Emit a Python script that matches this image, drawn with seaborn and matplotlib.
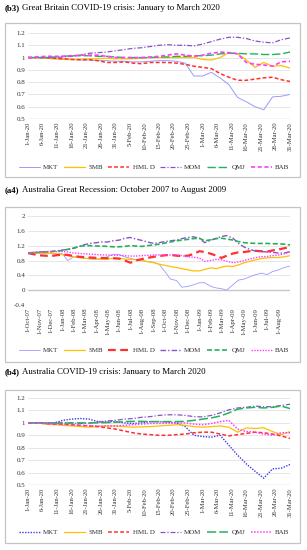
import numpy as np
import pandas as pd
import matplotlib
matplotlib.use("Agg")
import matplotlib.pyplot as plt
import seaborn as sns
from matplotlib.patches import Rectangle

# ---------------- data ----------------
factors = ["MKT", "SMB", "HML D", "MOM", "QMJ", "BAB"]

covid_dates = pd.date_range("2020-01-01", "2020-03-31", freq="3D")
covid_ticks = ["2020-01-01", "2020-01-06", "2020-01-11", "2020-01-16", "2020-01-21", "2020-01-26",
               "2020-01-31", "2020-02-05", "2020-02-10", "2020-02-15", "2020-02-20", "2020-02-25",
               "2020-03-01", "2020-03-06", "2020-03-11", "2020-03-16", "2020-03-21", "2020-03-26",
               "2020-03-31"]
covid_ticklabels = ["1-Jan-20", "6-Jan-20", "11-Jan-20", "16-Jan-20", "21-Jan-20", "26-Jan-20",
                    "31-Jan-20", "5-Feb-20", "10-Feb-20", "15-Feb-20", "20-Feb-20", "25-Feb-20",
                    "1-Mar-20", "6-Mar-20", "11-Mar-20", "16-Mar-20", "21-Mar-20", "26-Mar-20",
                    "31-Mar-20"]

gb_mkt = [1.0, 1.0, 0.995, 0.99, 0.99, 0.985, 0.98, 0.98, 0.975, 0.975, 0.97, 0.97, 0.965, 0.965, 0.97,
          0.975, 0.975, 0.97, 0.955, 0.85, 0.85, 0.88, 0.834, 0.78, 0.675, 0.64, 0.60, 0.575, 0.68, 0.685, 0.70]
gb_smb = [1, 1, 0.995, 0.99, 0.985, 0.983, 0.985, 0.99, 0.99, 0.995, 0.99, 0.99, 0.99, 0.995, 1.0,
          1.0, 1.0, 1.0, 1.0, 1.0, 0.985, 0.98, 1.0, 1.04, 1.03, 0.98, 0.92, 0.96, 0.93, 0.935, 0.915]
gb_hml = [1, 1, 1.0, 0.995, 0.99, 0.985, 0.983, 0.983, 0.975, 0.96, 0.96, 0.965, 0.955, 0.95, 0.96,
          0.96, 0.96, 0.955, 0.945, 0.93, 0.92, 0.91, 0.87, 0.84, 0.815, 0.815, 0.825, 0.835, 0.84, 0.82, 0.805]
gb_mom = [1, 1, 1.0, 1.0, 1.005, 1.01, 1.02, 1.035, 1.04, 1.045, 1.055, 1.065, 1.075, 1.08, 1.09,
          1.1, 1.105, 1.1, 1.1, 1.095, 1.11, 1.13, 1.15, 1.165, 1.165, 1.155, 1.135, 1.125, 1.12, 1.145, 1.16]
gb_qmj = [1, 1, 1, 1.005, 1.01, 1.015, 1.015, 1.015, 1.01, 1.01, 1.005, 1.0, 1.0, 1.0, 1.0,
          1.005, 1.005, 1.01, 1.01, 1.015, 1.015, 1.02, 1.03, 1.035, 1.035, 1.03, 1.03, 1.025, 1.025, 1.03, 1.045]
gb_bab = [1, 1.005, 1.01, 1.01, 1.01, 1.015, 1.02, 1.02, 1.02, 1.01, 1.0, 1.0, 1.0, 1.0, 1.005,
          1.01, 1.02, 1.03, 1.02, 1.01, 1.02, 1.035, 1.045, 1.04, 1.03, 0.96, 0.945, 0.94, 0.93, 0.965, 0.97]

au_mkt = [1.0, 1.0, 0.995, 1.0, 1.02, 1.03, 1.035, 1.03, 1.01, 1.01, 1.01, 1.0, 0.995, 1.0, 1.01,
          1.01, 1.005, 1.0, 0.97, 0.9, 0.89, 0.885, 0.9, 0.82, 0.74, 0.67, 0.61, 0.555, 0.63, 0.635, 0.665]
au_smb = [1, 1.0, 0.99, 0.985, 0.98, 0.975, 0.97, 0.965, 0.97, 0.975, 0.975, 0.97, 0.965, 0.968, 0.97,
          0.975, 0.98, 0.985, 0.98, 0.97, 0.965, 0.97, 0.975, 0.965, 0.925, 0.96, 0.955, 0.96, 0.93, 0.905, 0.93]
au_hml = [1, 1, 0.995, 0.99, 0.99, 0.985, 0.98, 0.975, 0.97, 0.96, 0.95, 0.935, 0.92, 0.91, 0.905,
          0.9, 0.9, 0.905, 0.91, 0.92, 0.925, 0.925, 0.91, 0.895, 0.905, 0.915, 0.925, 0.92, 0.91, 0.895, 0.875]
au_mom = [1, 1, 1.0, 1.0, 1.0, 0.998, 0.995, 0.998, 1.005, 1.015, 1.02, 1.03, 1.035, 1.045, 1.05,
          1.06, 1.065, 1.065, 1.06, 1.05, 1.048, 1.06, 1.08, 1.105, 1.12, 1.125, 1.135, 1.13, 1.13, 1.14, 1.15]
au_qmj = [1, 1, 0.998, 0.998, 0.998, 1.0, 1.0, 1.0, 1.0, 1.002, 1.005, 1.01, 1.012, 1.012, 1.01,
          1.01, 1.01, 1.01, 1.012, 1.02, 1.03, 1.04, 1.055, 1.08, 1.11, 1.12, 1.125, 1.12, 1.125, 1.135, 1.115]
au_bab = [1, 1.0, 0.995, 0.99, 0.988, 0.985, 0.98, 0.978, 0.975, 0.975, 0.975, 0.98, 0.985, 0.99, 0.995,
          0.995, 0.998, 1.0, 1.0, 0.99, 0.985, 0.995, 1.01, 1.02, 0.95, 0.93, 0.925, 0.91, 0.9, 0.92, 0.92]

gfc_month_starts = pd.date_range("2007-10-01", "2009-08-01", freq="MS")
gfc_dates = sorted(list(gfc_month_starts) + list(gfc_month_starts + pd.Timedelta(days=14))
                   + [pd.Timestamp("2009-08-31")])
gfc_ticklabels = ["1-Oct-07", "1-Nov-07", "1-Dec-07", "1-Jan-08", "1-Feb-08", "1-Mar-08", "1-Apr-08",
                  "1-May-08", "1-Jun-08", "1-Jul-08", "1-Aug-08", "1-Sep-08", "1-Oct-08", "1-Nov-08",
                  "1-Dec-08", "1-Jan-09", "1-Feb-09", "1-Mar-09", "1-Apr-09", "1-May-09", "1-Jun-09",
                  "1-Jul-09", "1-Aug-09"]

gfc_mkt = [1.0, 1.0, 1.01, 1.0, 1.0, 0.98, 0.98, 0.8, 0.9, 0.88, 0.86, 0.84, 0.83, 0.87, 0.9, 0.97,
           0.96, 0.9, 0.86, 0.82, 0.8, 0.77, 0.75, 0.7, 0.5, 0.3, 0.26, 0.08, 0.1, 0.14, 0.2, 0.2,
           0.1, 0.06, 0.04, 0.0, 0.15, 0.27, 0.3, 0.36, 0.42, 0.46, 0.42, 0.5, 0.55, 0.61, 0.65]
gfc_smb = [1.0, 1.0, 1.0, 0.99, 0.99, 0.98, 0.96, 0.93, 0.9, 0.88, 0.86, 0.85, 0.84, 0.83, 0.84, 0.86,
           0.86, 0.84, 0.83, 0.82, 0.8, 0.77, 0.74, 0.7, 0.67, 0.64, 0.61, 0.58, 0.55, 0.52, 0.52, 0.56,
           0.6, 0.58, 0.62, 0.65, 0.64, 0.68, 0.74, 0.78, 0.82, 0.85, 0.87, 0.88, 0.88, 0.9, 0.93]
gfc_hml = [1.0, 0.97, 0.94, 0.93, 0.92, 0.94, 0.96, 0.95, 0.92, 0.9, 0.89, 0.88, 0.87, 0.87, 0.86, 0.86,
           0.85, 0.8, 0.74, 0.8, 0.84, 0.87, 0.9, 0.92, 0.94, 0.95, 0.93, 0.92, 0.93, 0.97, 1.05, 1.03,
           0.98, 0.93, 0.87, 0.93, 0.99, 1.02, 1.03, 1.05, 1.06, 1.05, 1.04, 1.07, 1.1, 1.13, 1.16]
gfc_mom = [1.0, 1.02, 1.03, 1.04, 1.04, 1.06, 1.08, 1.1, 1.13, 1.18, 1.23, 1.26, 1.28, 1.3, 1.3, 1.33,
           1.35, 1.4, 1.42, 1.38, 1.34, 1.3, 1.26, 1.28, 1.31, 1.33, 1.35, 1.39, 1.42, 1.44, 1.4, 1.28,
           1.35, 1.4, 1.45, 1.47, 1.4, 1.26, 1.16, 1.1, 1.05, 1.04, 1.03, 1.02, 1.0, 1.0, 1.04]
gfc_qmj = [1.0, 1.01, 1.02, 1.03, 1.04, 1.05, 1.07, 1.1, 1.14, 1.18, 1.2, 1.2, 1.19, 1.19, 1.18, 1.17,
           1.17, 1.18, 1.2, 1.19, 1.18, 1.2, 1.22, 1.24, 1.27, 1.3, 1.33, 1.35, 1.37, 1.39, 1.4, 1.33,
           1.36, 1.39, 1.4, 1.38, 1.35, 1.31, 1.28, 1.27, 1.26, 1.26, 1.26, 1.25, 1.25, 1.24, 1.22]
gfc_bab = [1.0, 1.02, 1.03, 1.04, 1.04, 1.04, 1.04, 1.03, 1.0, 0.99, 0.98, 0.97, 0.96, 0.95, 0.95, 0.94,
           0.94, 0.93, 0.92, 0.92, 0.93, 0.94, 0.95, 0.95, 0.94, 0.95, 0.95, 0.93, 0.9, 0.89, 0.87, 0.78,
           0.8, 0.83, 0.82, 0.78, 0.74, 0.76, 0.8, 0.84, 0.88, 0.9, 0.91, 0.93, 0.95, 0.98, 1.03]

# ---------------- styles ----------------
C_MKT, C_MKT2 = "#9a9aff", "#3a3af0"
C_SMB, C_HML, C_MOM, C_QMJ, C_BAB = "#ffc000", "#ff3030", "#8a52c8", "#22b35a", "#ff3cff"
DASHDOT = (0, (4, 1.5, 1, 1.5))

styles_b3 = {"MKT": (C_MKT, "-", 0.7), "SMB": (C_SMB, "-", 0.9), "HML D": (C_HML, (0, (2.5, 1.5)), 1.1),
             "MOM": (C_MOM, DASHDOT, 0.9), "QMJ": (C_QMJ, (0, (6, 2)), 1.0), "BAB": (C_BAB, (0, (2.5, 1.5)), 1.2)}
styles_a4 = {"MKT": (C_MKT, "-", 0.6), "SMB": (C_SMB, "-", 0.9), "HML D": (C_HML, (0, (3.5, 2)), 1.6),
             "MOM": (C_MOM, DASHDOT, 1.0), "QMJ": (C_QMJ, (0, (3, 1.5)), 1.2), "BAB": (C_BAB, (0, (1, 1)), 1.0)}
styles_b4 = {"MKT": (C_MKT2, (0, (1, 1)), 1.0), "SMB": (C_SMB, "-", 0.9), "HML D": (C_HML, (0, (2.5, 1.5)), 1.1),
             "MOM": (C_MOM, DASHDOT, 0.9), "QMJ": (C_QMJ, (0, (6, 2)), 1.1), "BAB": (C_BAB, (0, (1, 1)), 1.1)}

# ---------------- figure ----------------
sns.set_theme(style="white")
plt.rcParams["font.family"] = ["Liberation Serif", "DejaVu Serif"]

W, H = 307, 550
fig = plt.figure(figsize=(W / 100, H / 100), dpi=100)
fig.patch.set_facecolor("white")


def rect(l, r, t, b):
    return [l / W, 1 - b / H, (r - l) / W, (b - t) / H]


def draw_panel(box, axpos, title_bold, title_rest, title_y, legend_y,
               dates, series, styles, ylim, yticks, yticklabels, xticks, xticklabels, xlim, base):
    bl, br, bt, bb = box
    fig.add_artist(Rectangle((bl / W, 1 - bb / H), (br - bl) / W, (bb - bt) / H,
                             transform=fig.transFigure, fill=False, edgecolor="#c4c4c4", lw=0.9))
    ax = fig.add_axes(rect(*axpos))
    ax.set_facecolor("none")
    for yv in yticks:
        ax.axhline(yv, color="#e2e2e2", lw=0.6, zorder=0)
    ax.axhline(base, color="#c8c8c8", lw=1.0, zorder=0)
    for name in factors:
        c, ls, lw = styles[name]
        sns.lineplot(x=dates, y=series[name], ax=ax, color=c, linestyle=ls, lw=lw,
                     label=name, legend=False)
    if ax.get_legend():
        ax.get_legend().remove()
    ax.set_ylim(*ylim)
    ax.set_xlim(*xlim)
    ax.set_yticks(yticks)
    ax.set_yticklabels(yticklabels, fontsize=5, color="#303030")
    ax.set_xticks(pd.to_datetime(xticks))
    ax.set_xticklabels(xticklabels, rotation=90, fontsize=4.8, color="#303030")
    ax.tick_params(length=0, pad=2)
    ax.set_xlabel("")
    ax.set_ylabel("")
    for s in ax.spines.values():
        s.set_visible(False)
    t1 = fig.text(5 / W, 1 - title_y / H, title_bold, fontsize=6.4, fontweight="bold",
                  va="center", ha="left", color="black")
    ax.annotate(title_rest, xy=(1, 0.5), xycoords=t1, xytext=(1.5, 0), textcoords="offset points",
                va="center", ha="left", fontsize=6.4, color="black", annotation_clip=False)
    handles, labels = ax.get_legend_handles_labels()
    fig.legend(handles, labels, loc="center", bbox_to_anchor=(154 / W, 1 - legend_y / H), ncol=6,
               frameon=False, fontsize=5, handlelength=3.0, columnspacing=0.8, handletextpad=0.5,
               labelcolor="#303030")
    return ax


draw_panel((5, 300, 23, 177), (28, 290, 33, 119), "(b3)", "Great Britain COVID-19 crisis: January to March 2020",
           8, 167, covid_dates,
           {"MKT": gb_mkt, "SMB": gb_smb, "HML D": gb_hml, "MOM": gb_mom, "QMJ": gb_qmj, "BAB": gb_bab},
           styles_b3, (0.5, 1.2), [0.5, 0.6, 0.7, 0.8, 0.9, 1.0, 1.1, 1.2],
           ["0.5", "0.6", "0.7", "0.8", "0.9", "1", "1.1", "1.2"],
           covid_ticks, covid_ticklabels, (pd.Timestamp("2020-01-01"), pd.Timestamp("2020-03-31")), 0.5)

draw_panel((5, 300, 207, 362), (28, 290, 216, 305), "(a4)", "Australia Great Recession: October 2007 to August 2009",
           190, 350, gfc_dates,
           {"MKT": gfc_mkt, "SMB": gfc_smb, "HML D": gfc_hml, "MOM": gfc_mom, "QMJ": gfc_qmj, "BAB": gfc_bab},
           styles_a4, (-0.4, 2.0), [-0.4, 0.0, 0.4, 0.8, 1.2, 1.6, 2.0],
           ["-0.4", "0", "0.4", "0.8", "1.2", "1.6", "2"],
           list(gfc_month_starts), gfc_ticklabels, (pd.Timestamp("2007-10-01"), pd.Timestamp("2009-08-31")), 0.0)

draw_panel((5, 300, 390, 543), (28, 290, 398, 485), "(b4)", "Australia COVID-19 crisis: January to March 2020",
           372, 532, covid_dates,
           {"MKT": au_mkt, "SMB": au_smb, "HML D": au_hml, "MOM": au_mom, "QMJ": au_qmj, "BAB": au_bab},
           styles_b4, (0.5, 1.2), [0.5, 0.6, 0.7, 0.8, 0.9, 1.0, 1.1, 1.2],
           ["0.5", "0.6", "0.7", "0.8", "0.9", "1", "1.1", "1.2"],
           covid_ticks, covid_ticklabels, (pd.Timestamp("2020-01-01"), pd.Timestamp("2020-03-31")), 0.5)

fig.savefig("out.png", dpi=100, facecolor="white")
